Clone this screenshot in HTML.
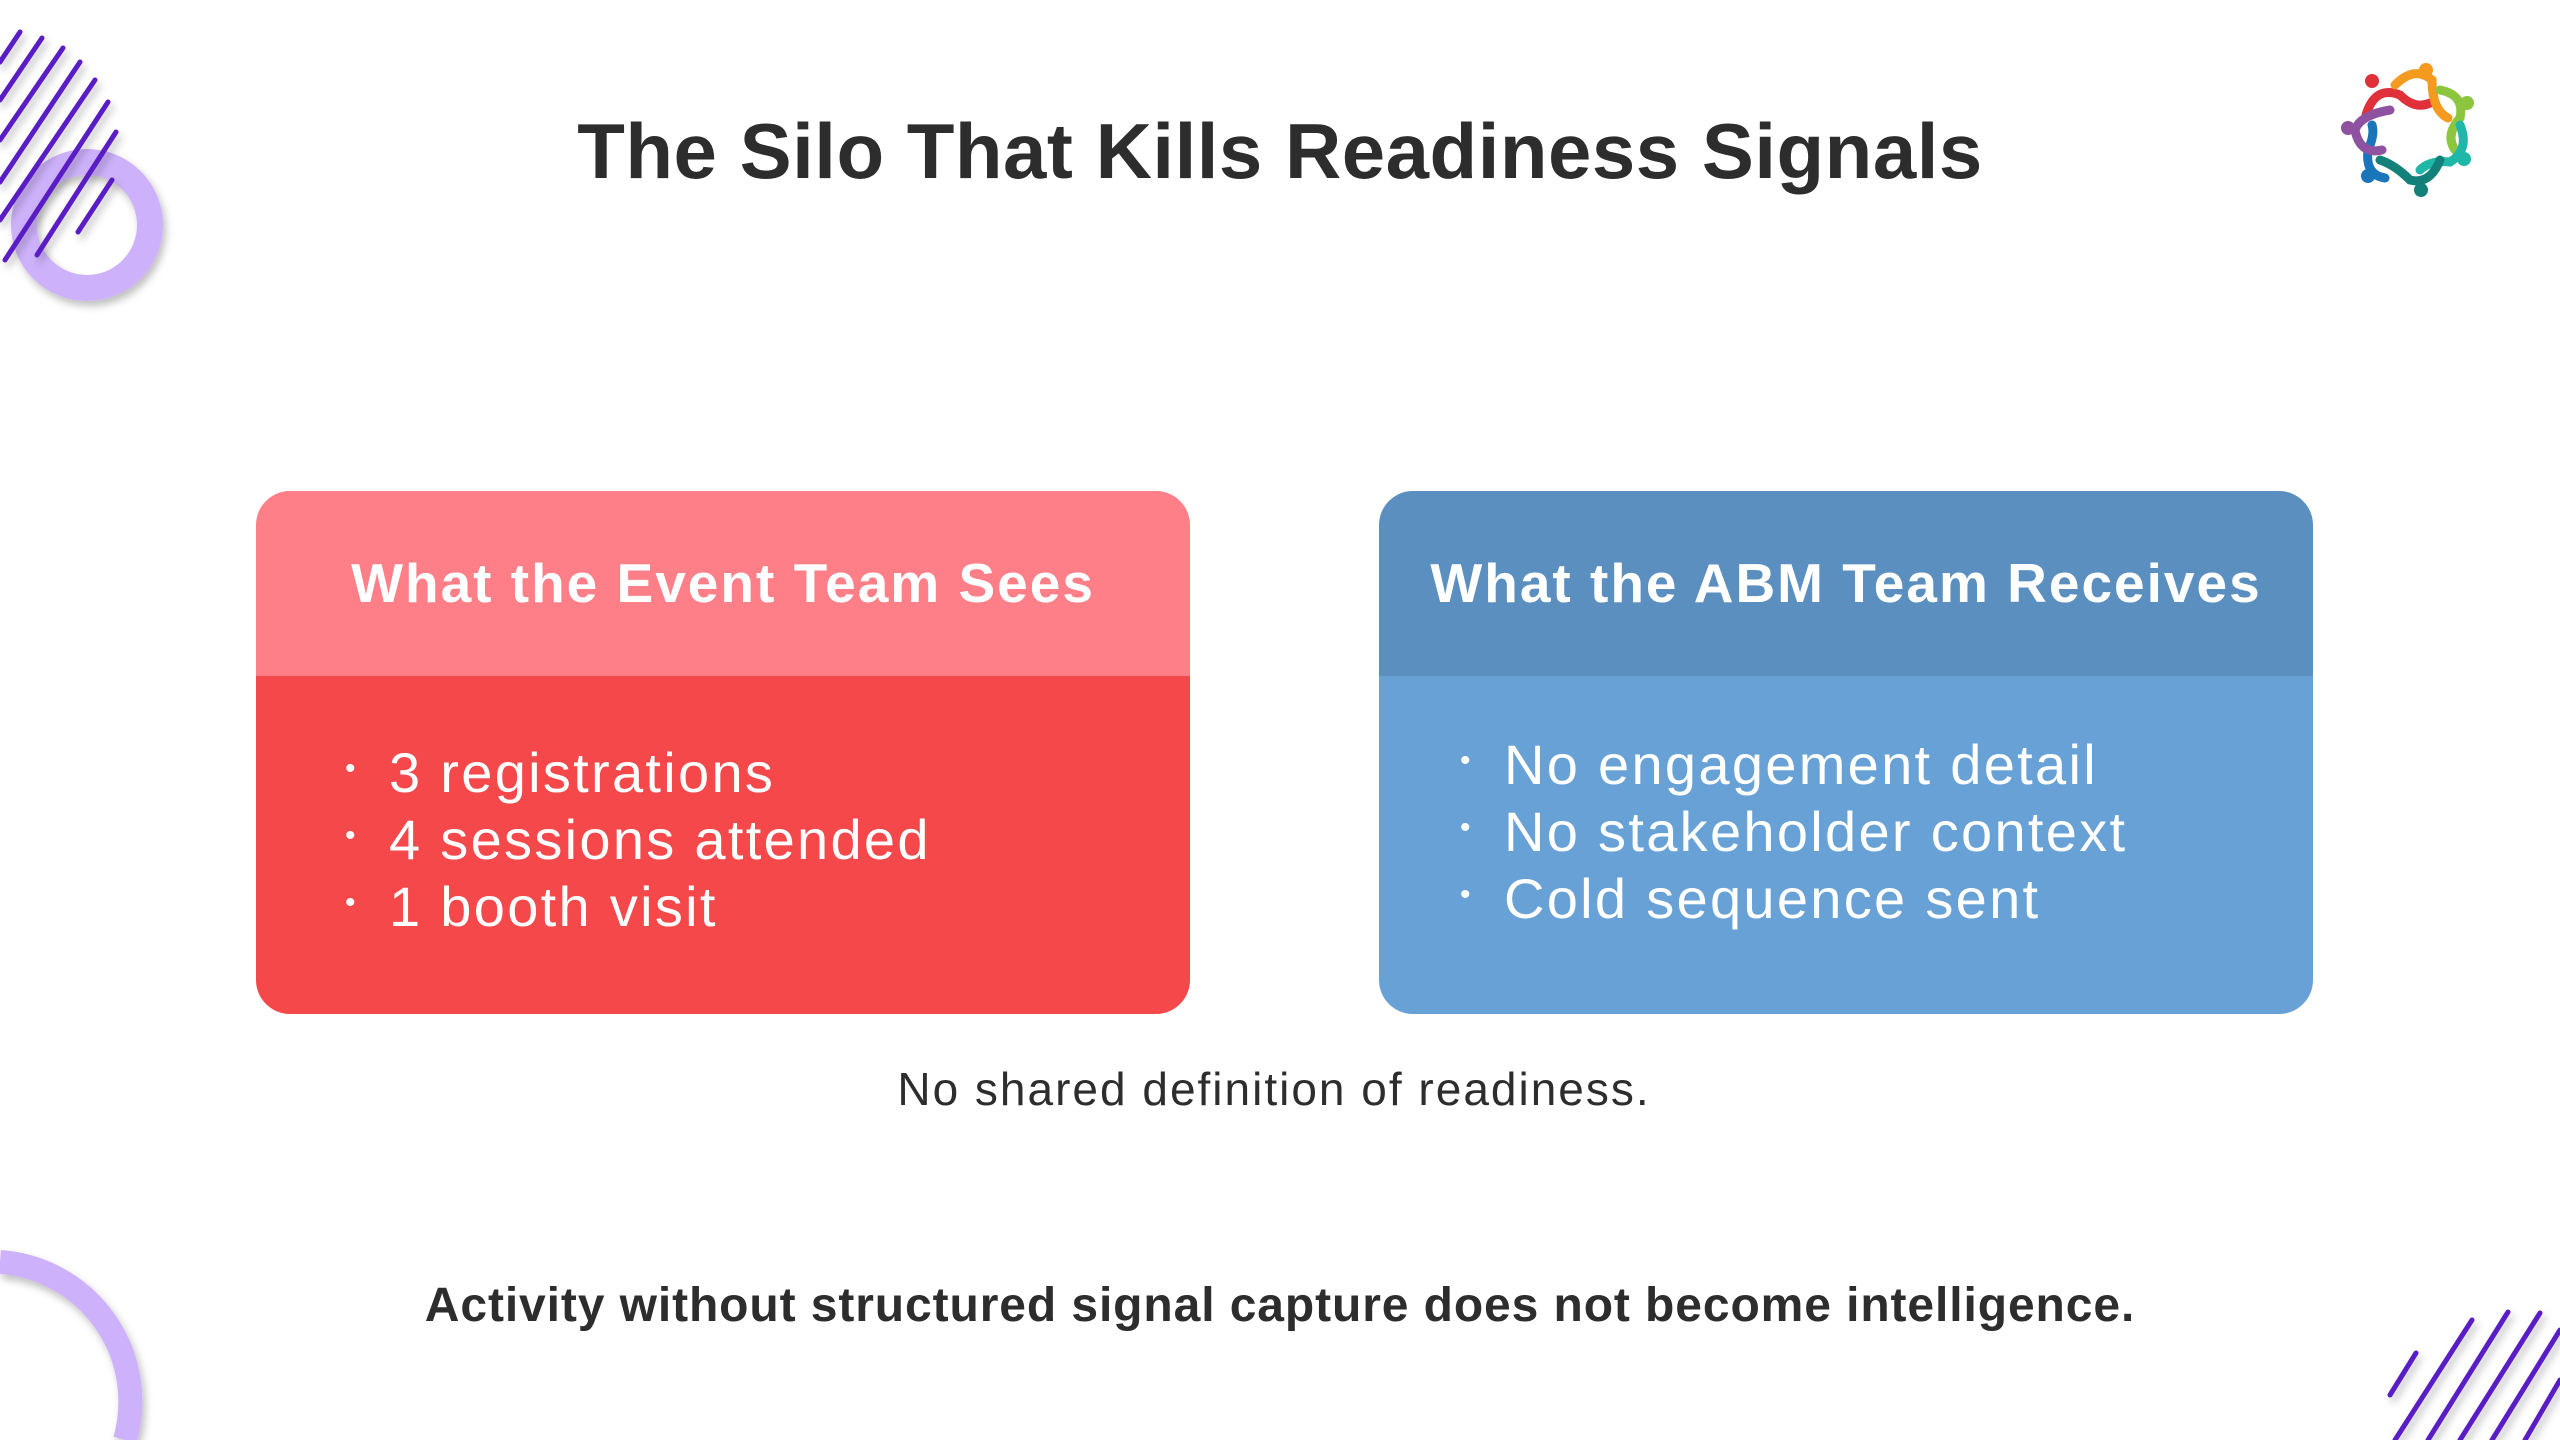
<!DOCTYPE html>
<html><head><meta charset="utf-8"><style>
body{margin:0;width:2560px;height:1440px;background:#fff;position:relative;overflow:hidden;font-family:"Liberation Sans",sans-serif;color:#2d2d2d}
.t{position:absolute;left:0;width:2560px;text-align:center}
.card{position:absolute;top:491px;width:934px;height:523px;border-radius:34px;overflow:hidden}
.hd{height:185px;line-height:185px;text-align:center;color:#fff;font-weight:bold;font-size:55px;letter-spacing:2px}
.bd{height:338px}
.li{position:absolute;color:#fff;font-size:56px;letter-spacing:2.3px;white-space:nowrap}
.li span{position:absolute;left:-44px;font-size:30px;top:12px}
</style></head><body>
<svg width="2560" height="1440" style="position:absolute;left:0;top:0">
<defs><filter id="s" x="-50%" y="-50%" width="200%" height="200%"><feDropShadow dx="3" dy="5" stdDeviation="4" flood-opacity="0.25"/></filter></defs>
<circle cx="87" cy="225" r="63" fill="none" stroke="#cdb2fb" stroke-width="26" filter="url(#s)"/>
<g stroke="#5a1fc4" stroke-width="5" stroke-linecap="round" filter="url(#s)">
<line x1="20" y1="32" x2="0" y2="62"/><line x1="42" y1="38" x2="0" y2="100"/><line x1="63" y1="48" x2="0" y2="140"/><line x1="80" y1="62" x2="0" y2="182"/><line x1="95" y1="80" x2="0" y2="220"/><line x1="108" y1="102" x2="5" y2="260"/><line x1="116" y1="132" x2="37" y2="255"/><line x1="112" y1="180" x2="78" y2="232"/>
</g>
<path d="M0 1262 A140 140 0 0 1 125 1440" fill="none" stroke="#cdb2fb" stroke-width="24" filter="url(#s)"/>
<g stroke="#5a1fc4" stroke-width="5" stroke-linecap="round" filter="url(#s)">
<line x1="2416" y1="1353" x2="2390" y2="1395"/><line x1="2472" y1="1320" x2="2395" y2="1440"/><line x1="2508" y1="1312" x2="2428" y2="1440"/><line x1="2540" y1="1313" x2="2460" y2="1440"/><line x1="2560" y1="1330" x2="2492" y2="1440"/><line x1="2560" y1="1380" x2="2525" y2="1440"/>
</g>
<g fill="none" stroke-width="9" stroke-linecap="round">
<path d="M2366 115 Q2375 85 2400 95 Q2415 110 2430 103" stroke="#e0303a"/>
<path d="M2395 85 Q2415 65 2432 80 Q2432 110 2448 118" stroke="#f39a1f"/>
<path d="M2440 90 Q2465 95 2460 118 Q2445 135 2455 150" stroke="#8cc63f"/>
<path d="M2460 125 Q2470 150 2450 162 Q2430 160 2420 170" stroke="#1fb8a8"/>
<path d="M2440 160 Q2430 185 2410 180 Q2395 165 2380 160" stroke="#14807a"/>
<path d="M2385 178 Q2365 175 2368 150 Q2375 135 2372 125" stroke="#1b75bb"/>
<path d="M2382 150 Q2360 155 2355 130 Q2360 115 2390 110" stroke="#8e52a1"/>
</g>
<circle cx="2372" cy="81" r="7" fill="#e0303a"/><circle cx="2426" cy="70" r="7" fill="#f39a1f"/><circle cx="2467" cy="103" r="7" fill="#8cc63f"/><circle cx="2464" cy="159" r="7" fill="#1fb8a8"/><circle cx="2421" cy="190" r="7" fill="#14807a"/><circle cx="2368" cy="176" r="7" fill="#1b75bb"/><circle cx="2348" cy="128" r="7" fill="#8e52a1"/>
</svg>
<div class="t" style="top:106px;font-size:78px;font-weight:bold;letter-spacing:0.5px">The Silo That Kills Readiness Signals</div>
<div class="card" style="left:256px"><div class="hd" style="background:#fe7f87">What the Event Team Sees</div><div class="bd" style="background:#f5484a"></div></div>
<div class="card" style="left:1379px"><div class="hd" style="background:#5a8fc0">What the ABM Team Receives</div><div class="bd" style="background:#67a1d6"></div></div>
<div class="li" style="left:389px;top:740px"><span>•</span>3 registrations</div>
<div class="li" style="left:389px;top:807px"><span>•</span>4 sessions attended</div>
<div class="li" style="left:389px;top:874px"><span>•</span>1 booth visit</div>
<div class="li" style="left:1504px;top:732px"><span>•</span>No engagement detail</div>
<div class="li" style="left:1504px;top:799px"><span>•</span>No stakeholder context</div>
<div class="li" style="left:1504px;top:866px"><span>•</span>Cold sequence sent</div>
<div class="t" style="top:1062px;font-size:46px;letter-spacing:2px;left:-6px">No shared definition of readiness.</div>
<div class="t" style="top:1278px;font-size:48px;font-weight:bold;letter-spacing:0.9px">Activity without structured signal capture does not become intelligence.</div>
</body></html>
